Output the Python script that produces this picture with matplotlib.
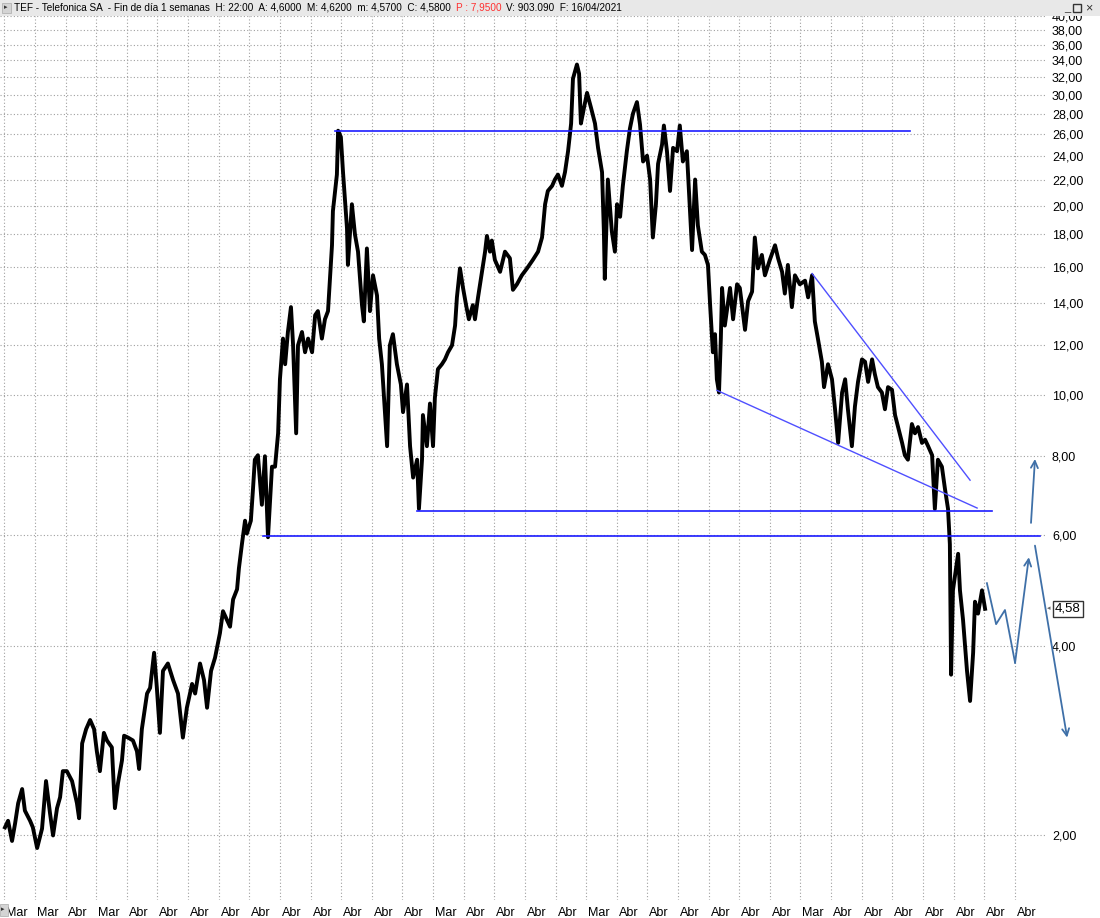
import matplotlib.pyplot as plt
import numpy as np
from matplotlib.patches import Rectangle
from matplotlib.transforms import ScaledTranslation, blended_transform_factory

plt.rcParams['font.family'] = ['Liberation Sans', 'DejaVu Sans']

# TEF weekly price (decimal year / price)
years = [
    1989.27, 1989.37, 1989.50, 1989.60, 1989.70, 1989.83, 1989.92, 1990.09, 1990.18, 1990.32,
    1990.48, 1990.61, 1990.74, 1990.84, 1990.97, 1991.07, 1991.16, 1991.29, 1991.46, 1991.62,
    1991.69, 1991.79, 1991.92, 1992.05, 1992.18, 1992.27, 1992.37, 1992.50, 1992.60, 1992.76,
    1992.86, 1992.96, 1993.09, 1993.16, 1993.29, 1993.45, 1993.58, 1993.65, 1993.74, 1993.91,
    1994.01, 1994.14, 1994.23, 1994.33, 1994.43, 1994.59, 1994.76, 1994.92, 1995.08, 1995.21,
    1995.38, 1995.48, 1995.64, 1995.77, 1995.87, 1996.00, 1996.13, 1996.29, 1996.39, 1996.62,
    1996.72, 1996.85, 1996.91, 1997.01, 1997.11, 1997.17, 1997.30, 1997.37, 1997.43, 1997.53,
    1997.66, 1997.76, 1997.86, 1997.99, 1998.09, 1998.19, 1998.25, 1998.35, 1998.42, 1998.51,
    1998.61, 1998.68, 1998.78, 1998.84, 1998.97, 1999.07, 1999.17, 1999.30, 1999.40, 1999.49,
    1999.62, 1999.72, 1999.82, 1999.88, 1999.95, 1999.98, 2000.11, 2000.15, 2000.24, 2000.31,
    2000.44, 2000.47, 2000.60, 2000.70, 2000.80, 2000.93, 2000.99, 2001.09, 2001.19, 2001.29,
    2001.42, 2001.49, 2001.58, 2001.65, 2001.75, 2001.84, 2001.94, 2002.07, 2002.20, 2002.27,
    2002.40, 2002.50, 2002.60, 2002.73, 2002.79, 2002.89, 2002.92, 2003.05, 2003.15, 2003.25,
    2003.31, 2003.41, 2003.54, 2003.64, 2003.74, 2003.87, 2003.97, 2004.03, 2004.13, 2004.23,
    2004.33, 2004.42, 2004.55, 2004.62, 2004.72, 2004.85, 2004.95, 2005.01, 2005.11,
    2005.17, 2005.27, 2005.44, 2005.60, 2005.76, 2005.86, 2005.99, 2006.15, 2006.32, 2006.51,
    2006.68, 2006.81, 2006.91, 2007.00, 2007.14, 2007.23, 2007.33, 2007.46, 2007.56, 2007.66,
    2007.76, 2007.82, 2007.95, 2008.02, 2008.08, 2008.18, 2008.28, 2008.41, 2008.54, 2008.64,
    2008.77, 2008.83, 2008.86, 2008.96, 2009.09, 2009.19, 2009.26, 2009.36, 2009.45, 2009.58,
    2009.68, 2009.78, 2009.91, 2010.01, 2010.11, 2010.24, 2010.34, 2010.43, 2010.53, 2010.60,
    2010.73, 2010.79, 2010.89, 2010.99, 2011.09, 2011.22, 2011.31, 2011.41, 2011.54, 2011.64,
    2011.71, 2011.81, 2011.90, 2012.03, 2012.13, 2012.23, 2012.30, 2012.39, 2012.46, 2012.52,
    2012.59, 2012.65,
    2012.69, 2012.78, 2012.95, 2013.05, 2013.18, 2013.27, 2013.44, 2013.54, 2013.67, 2013.76,
    2013.86, 2013.99, 2014.09, 2014.25, 2014.42, 2014.52, 2014.65, 2014.74, 2014.84, 2014.97,
    2015.07, 2015.23, 2015.40, 2015.50, 2015.63, 2015.72, 2015.82, 2015.95, 2016.02, 2016.15,
    2016.28, 2016.38, 2016.48, 2016.61, 2016.71, 2016.80, 2016.93, 2017.03, 2017.13, 2017.26,
    2017.36, 2017.46, 2017.59, 2017.68, 2017.78, 2017.91, 2018.01, 2018.11, 2018.24, 2018.34,
    2018.44, 2018.57, 2018.66, 2018.76, 2018.89, 2018.99, 2019.09, 2019.22, 2019.32, 2019.42,
    2019.55, 2019.64, 2019.74, 2019.87, 2019.97, 2020.07, 2020.13, 2020.17, 2020.23, 2020.40,
    2020.46, 2020.56, 2020.69, 2020.79, 2020.89, 2020.95, 2021.05, 2021.18, 2021.28,
]
prices = [
    2.06, 2.11, 1.96, 2.09, 2.25, 2.37, 2.19, 2.11, 2.06, 1.91,
    2.05, 2.44, 2.17, 2.00, 2.21, 2.30, 2.53, 2.53, 2.44, 2.25,
    2.13, 2.80, 2.95, 3.05, 2.95, 2.72, 2.53, 2.91, 2.83, 2.76,
    2.21, 2.42, 2.63, 2.88, 2.86, 2.83, 2.72, 2.55, 2.95, 3.36,
    3.43, 3.90, 3.43, 2.91, 3.65, 3.75, 3.53, 3.36, 2.86, 3.19,
    3.48, 3.36, 3.75, 3.53, 3.19, 3.65, 3.83, 4.19, 4.54, 4.29,
    4.74, 4.92, 5.31, 5.81, 6.32, 6.03, 6.32, 7.10, 7.90, 8.03,
    6.70, 8.00, 5.95, 7.70, 7.70, 8.70, 10.6, 12.3, 11.2, 12.6,
    13.8, 12.0, 8.70, 12.0, 12.6, 11.7, 12.3, 11.7, 13.4, 13.6,
    12.3, 13.2, 13.6, 15.2, 17.3, 19.6, 22.4, 26.3, 25.7, 22.6,
    18.4, 16.1, 20.1, 18.0, 16.9, 13.9, 13.1, 17.1, 13.6, 15.5,
    14.4, 12.3, 11.2, 9.9, 8.3, 12.0, 12.5, 11.2, 10.4, 9.4,
    10.4, 8.3, 7.4, 7.9, 6.6, 7.9, 9.3, 8.3, 9.7, 8.3,
    9.9, 11.0, 11.2, 11.4, 11.7, 12.0, 12.9, 14.3, 15.9, 14.8,
    13.9, 13.2, 13.9, 13.2, 14.3, 15.7, 16.9, 17.9, 16.9,
    17.6, 16.4, 15.7, 16.9, 16.5, 14.7, 15.0, 15.5, 15.9, 16.4,
    16.9, 17.8, 20.1, 21.1, 21.5, 22.0, 22.4, 21.5, 22.6, 24.4,
    27.0, 31.8, 33.5, 32.4, 27.0, 28.6, 30.2, 28.6, 27.0, 24.7,
    22.6, 18.2, 15.3, 22.0, 18.2, 16.9, 20.1, 19.2, 21.5, 24.4,
    26.5, 28.0, 29.2, 26.9, 23.5, 24.0, 22.0, 17.8, 20.1, 23.3,
    25.0, 26.8, 24.4, 21.1, 24.7, 24.4, 26.8, 23.5, 24.4, 19.8,
    17.0, 22.0, 18.6, 16.9, 16.7, 16.1, 13.9, 11.7, 12.5, 10.6,
    10.1, 12.3,
    14.8, 12.9, 14.8, 13.2, 15.0, 14.8, 12.7, 14.1, 14.6, 17.8,
    15.9, 16.7, 15.5, 16.4, 17.3, 16.5, 15.7, 14.5, 16.1, 13.8,
    15.5, 15.0, 15.2, 14.3, 15.5, 13.1, 12.3, 11.3, 10.3, 11.2,
    10.6, 9.5, 8.4, 10.1, 10.6, 9.5, 8.3, 9.6, 10.5, 11.4,
    11.3, 10.5, 11.4, 10.8, 10.3, 10.1, 9.5, 10.3, 10.2, 9.3,
    8.9, 8.4, 8.03, 7.9, 9.0, 8.7, 8.9, 8.4, 8.5, 8.3,
    8.03, 6.6, 7.9, 7.7, 7.1, 6.6, 5.8, 3.6, 4.9, 5.6,
    4.9, 4.4, 3.65, 3.27, 3.9, 4.7, 4.5, 4.9, 4.58,
]

# support / resistance lines drawn by hand: (year start, year end, price start, price end)
resistance = [2000.05, 2018.83, 26.3, 26.3]
support_high = [2002.73, 2021.51, 6.55, 6.55]
support_low = [1997.69, 2023.07, 5.98, 5.98]
wedge_top = [2015.63, 2020.79, 15.6, 7.33]
wedge_bottom = [2012.52, 2021.02, 10.18, 6.62]

# projected path (arrows after the last bar)
proj_years = [2021.34, 2021.64, 2021.93, 2022.26, 2022.71]
proj_prices = [5.03, 4.33, 4.56, 3.76, 5.53]
up_arrow = [2022.78, 2022.91, 6.27, 7.92]
down_arrow = [2022.91, 2023.96, 5.77, 2.86]

y_ticks = [2, 4, 6, 8, 10, 12, 14, 16, 18, 20, 22, 24, 26, 28, 30, 32, 34, 36, 38, 40]
x_labels = ["Mar", "Mar", "Abr", "Mar", "Abr", "Abr", "Abr", "Abr", "Abr", "Abr",
            "Abr", "Abr", "Abr", "Abr", "Mar", "Abr", "Abr", "Abr",
            "Abr", "Mar", "Abr", "Abr", "Abr", "Abr", "Abr", "Abr", "Mar", "Abr",
            "Abr", "Abr", "Abr", "Abr", "Abr", "Abr"]
last_price = 4.58

W, H = 1100, 918
fig = plt.figure(figsize=(W / 100, H / 100), dpi=100)
fig.patch.set_facecolor('white')
ax = fig.add_axes([0, 18 / H, 1046 / W, 884 / H])

ax.plot(years, prices, color='black', lw=2.8, zorder=3)

blue = '#1c1cff'
wblue = '#4f4fff'
for ln, c, w in [(resistance, blue, 1.2), (support_high, blue, 1.2), (support_low, blue, 1.2),
                 (wedge_top, wblue, 1.0), (wedge_bottom, wblue, 1.0)]:
    ax.plot(ln[:2], ln[2:], color=c, lw=w, zorder=4)

arrow_col = '#3f70a8'
ax.plot(proj_years[:-1], proj_prices[:-1], color=arrow_col, lw=1.3, zorder=4)
arrow_kw = dict(arrowstyle='->,head_length=0.5,head_width=0.25', color=arrow_col, lw=1.3,
                shrinkA=0, shrinkB=0, clip_on=False)
ax.annotate('', xy=(proj_years[-1], proj_prices[-1]), xytext=(proj_years[-2], proj_prices[-2]),
            arrowprops=arrow_kw, annotation_clip=False)
ax.annotate('', xy=(up_arrow[1], up_arrow[3]), xytext=(up_arrow[0], up_arrow[2]),
            arrowprops=arrow_kw, annotation_clip=False)
ax.annotate('', xy=(down_arrow[1], down_arrow[3]), xytext=(down_arrow[0], down_arrow[2]),
            arrowprops=arrow_kw, annotation_clip=False)

ax.set_yscale('log')
ax.set_ylim(1.5796, 39.16)
ax.set_xlim(1989.107, 2023.27)
ax.set_yticks(y_ticks)
ax.set_yticklabels([f"{v},00" for v in y_ticks])
ax.yaxis.set_minor_locator(plt.NullLocator())
ax.yaxis.tick_right()
ax.tick_params(axis='y', length=0, pad=4.3, labelsize=9)

grid_x = 1989.25 + np.arange(len(x_labels))
ax.set_xticks(grid_x)
ax.set_xticklabels(x_labels, ha='left')
ax.tick_params(axis='x', length=0, pad=5, labelsize=9)
shift = ScaledTranslation(2 / 100, 0, fig.dpi_scale_trans)
for lab in ax.get_xticklabels():
    lab.set_transform(lab.get_transform() + shift)

ax.grid(True, linestyle=(0, (1, 2)), color='#a0a0a0', lw=0.8)
for s in ax.spines.values():
    s.set_visible(False)

# last price marker
tr = blended_transform_factory(fig.transFigure, ax.transData)
ax.text(1055 / W, last_price, "4,58", transform=tr, fontsize=9.5, va='center', ha='left',
        bbox=dict(boxstyle='square,pad=0.15', fc='white', ec='#333333', lw=1), clip_on=False)
ax.text(1047 / W, last_price, "◂", transform=tr, fontsize=5, va='center', ha='left',
        color='#666666', clip_on=False)

# header bar
fig.add_artist(Rectangle((0, 1 - 16 / H), 1, 16 / H, transform=fig.transFigure,
                         fc='#e8e8e8', ec='none', zorder=5))
fig.add_artist(Rectangle((2 / W, 1 - 13 / H), 9 / W, 10 / H, transform=fig.transFigure,
                         fc='#d4d4d4', ec='#aaaaaa', lw=0.5, zorder=6))
fig.text(3.5 / W, 1 - 8 / H, "▸", fontsize=5, va='center', color='#333333', zorder=7)
fig.text(1064 / W, 1 - 8 / H, "_", fontsize=8, va='center', color='#333333', zorder=7)
fig.add_artist(Rectangle((1073 / W, 1 - 12 / H), 8 / W, 8 / H, transform=fig.transFigure,
                         fc='none', ec='#333333', lw=1, zorder=7))
fig.text(1085 / W, 1 - 8 / H, "×", fontsize=9, va='center', color='#333333', zorder=7)

fig.canvas.draw()
rend = fig.canvas.get_renderer()
parts = [("TEF - Telefonica SA  - Fin de día 1 semanas  H: 22:00  A: 4,6000  M: 4,6200  m: 4,5700  C: 4,5800", 'black'),
         ("P : 7,9500", '#ff3030'),
         ("V: 903.090  F: 16/04/2021", 'black')]
xpos = 14
for txt, col in parts:
    t = fig.text(xpos / W, 1 - 8 / H, txt, fontsize=7.2, va='center', color=col, zorder=7)
    xpos = t.get_window_extent(rend).x1 + 5

# bottom-left scroll button
fig.add_artist(Rectangle((0, 2 / H), 8 / W, 12 / H, transform=fig.transFigure,
                         fc='#d4d4d4', ec='#aaaaaa', lw=0.5, zorder=6))
fig.text(1 / W, 8 / H, "▸", fontsize=5, va='center', color='#333333', zorder=7)

fig.savefig('out.png', dpi=100)
